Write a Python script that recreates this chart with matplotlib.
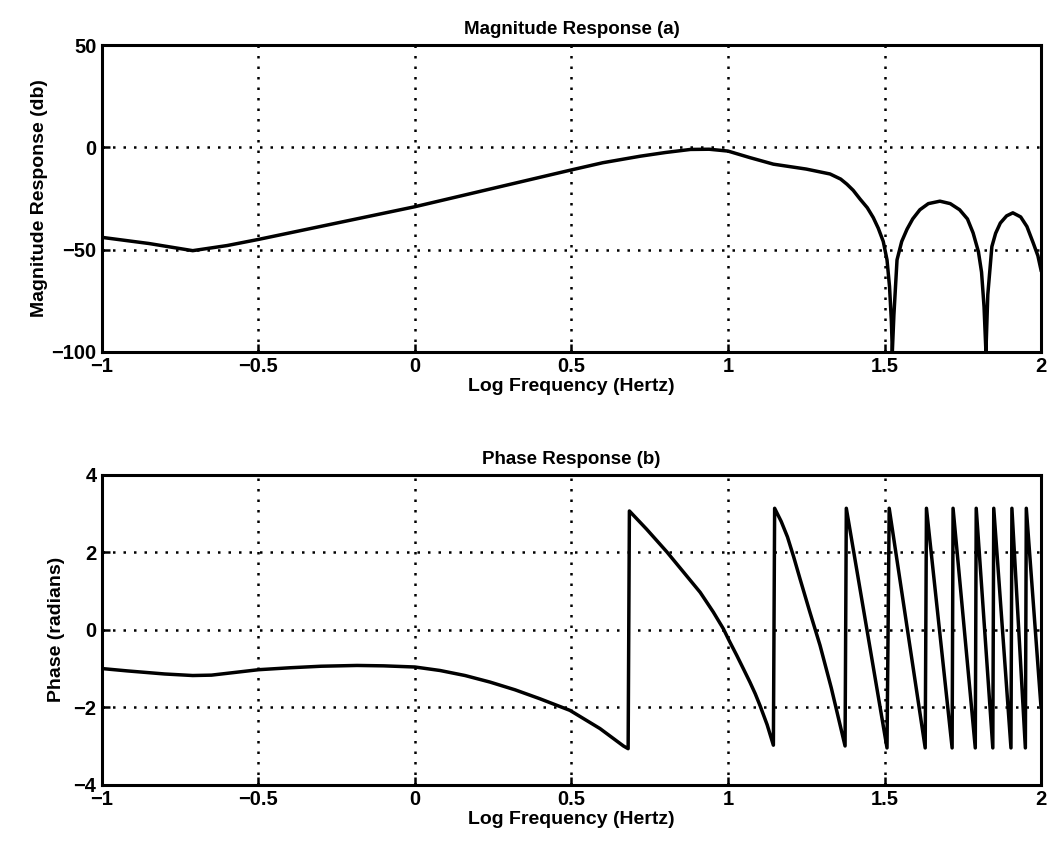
import matplotlib
matplotlib.use("Agg")
import matplotlib.pyplot as plt

plt.rcParams["font.family"] = ["Liberation Sans", "DejaVu Sans"]
plt.rcParams["font.weight"] = "bold"

# Magnitude response (log frequency vs db)
mag_x = [-1.0, -0.85, -0.71, -0.6, -0.5, -0.25, 0.0, 0.25, 0.5, 0.6, 0.72, 0.8,
         0.88, 0.94, 1.0, 1.07, 1.145, 1.25, 1.326, 1.36, 1.38, 1.40, 1.422,
         1.445, 1.464, 1.48, 1.496, 1.508, 1.516, 1.522, 1.525, 1.53, 1.54,
         1.555, 1.572, 1.59, 1.613, 1.64, 1.677, 1.71, 1.74, 1.765, 1.783, 1.80,
         1.81, 1.818, 1.824, 1.83, 1.843, 1.855, 1.87, 1.89, 1.91, 1.935, 1.955,
         1.975, 1.99, 2.0]
mag_db = [-44, -47, -50.5, -48, -45, -37, -29, -20, -11, -7.5, -4.3, -2.5,
          -1.0, -0.9, -1.8, -5, -8.2, -10.6, -13, -15.5, -18, -21, -25.3,
          -29.5, -34.3, -39.5, -46, -55, -68, -85, -100, -82, -55,
          -46, -40, -35, -30.5, -27.5, -26.3, -27.5, -30.5, -35, -41.8, -51,
          -61, -78, -100, -72, -48.5, -42, -37, -33.5, -32, -34, -38.7,
          -46.7, -53, -60]

# Phase response (log frequency vs radians)
ph_x = [-1.0, -0.92, -0.8, -0.71, -0.65, -0.5, -0.4, -0.3, -0.185, -0.1, 0.0,
        0.08, 0.16, 0.24, 0.32, 0.399, 0.495, 0.591, 0.666, 0.681, 0.685,
        0.74, 0.804, 0.857, 0.911, 0.93, 0.953, 0.985, 1.005, 1.028, 1.05,
        1.07, 1.087, 1.102, 1.125, 1.145, 1.149, 1.17, 1.19, 1.21, 1.23,
        1.26, 1.294, 1.33, 1.374, 1.378, 1.508, 1.515, 1.63, 1.634, 1.716,
        1.719, 1.79, 1.793, 1.846, 1.849, 1.904, 1.907, 1.95, 1.953, 2.0]
ph_rad = [-1.0, -1.06, -1.14, -1.18, -1.17, -1.03, -0.98, -0.94, -0.92, -0.93,
          -0.96, -1.05, -1.18, -1.35, -1.55, -1.78, -2.08, -2.55, -3.0, -3.07,
          3.07, 2.6, 2.02, 1.5, 0.97, 0.74, 0.46, 0.03, -0.3, -0.66, -1.02,
          -1.35, -1.65, -1.95, -2.45, -2.98, 3.14, 2.8, 2.4, 1.88, 1.32,
          0.5, -0.4, -1.5, -3.0, 3.14, -3.05, 3.14, -3.05, 3.14, -3.05,
          3.14, -3.05, 3.14, -3.05, 3.14, -3.05, 3.14, -3.05, 3.14, -2.0]

x_ticks = [-1, -0.5, 0, 0.5, 1, 1.5, 2]
x_ticklabels = ["\u22121", "\u22120.5", "0", "0.5", "1", "1.5", "2"]

fig = plt.figure(figsize=(10.51, 8.52), dpi=100)
ax1 = fig.add_axes([0.097, 0.587, 0.8935, 0.36])
ax2 = fig.add_axes([0.097, 0.079, 0.8935, 0.3635])


def style(ax):
    for s in ax.spines.values():
        s.set_linewidth(2.2)
        s.set_color("black")
    ax.grid(True, linestyle=(0, (1, 3.2)), color="black", linewidth=1.8)
    ax.tick_params(direction="in", length=6, width=1.8, labelsize=14.5,
                   top=False, right=False, pad=4)
    ax.set_xlim(-1, 2)
    ax.set_xticks(x_ticks)
    ax.set_xticklabels(x_ticklabels, fontweight="bold")
    for lab in ax.get_yticklabels():
        lab.set_fontweight("bold")
    ax.set_xlabel("Log Frequency (Hertz)", fontsize=14, fontweight="bold", labelpad=1)


ax1.plot(mag_x, mag_db, color="black", linewidth=2.5)
ax1.set_ylim(-100, 50)
ax1.set_yticks([-100, -50, 0, 50])
ax1.set_yticklabels(["\u2212100", "\u221250", "0", "50"])
style(ax1)
ax1.set_ylabel("Magnitude Response (db)", fontsize=14, fontweight="bold", labelpad=2)
ax1.set_title("Magnitude Response (a)", fontsize=13.5, fontweight="bold", pad=8)

ax2.plot(ph_x, ph_rad, color="black", linewidth=2.5)
ax2.set_ylim(-4, 4)
ax2.set_yticks([-4, -2, 0, 2, 4])
ax2.set_yticklabels(["\u22124", "\u22122", "0", "2", "4"])
style(ax2)
ax2.set_ylabel("Phase (radians)", fontsize=14, fontweight="bold", labelpad=6)
ax2.set_title("Phase Response (b)", fontsize=13.5, fontweight="bold", pad=8)

fig.savefig("out.png", dpi=100)
